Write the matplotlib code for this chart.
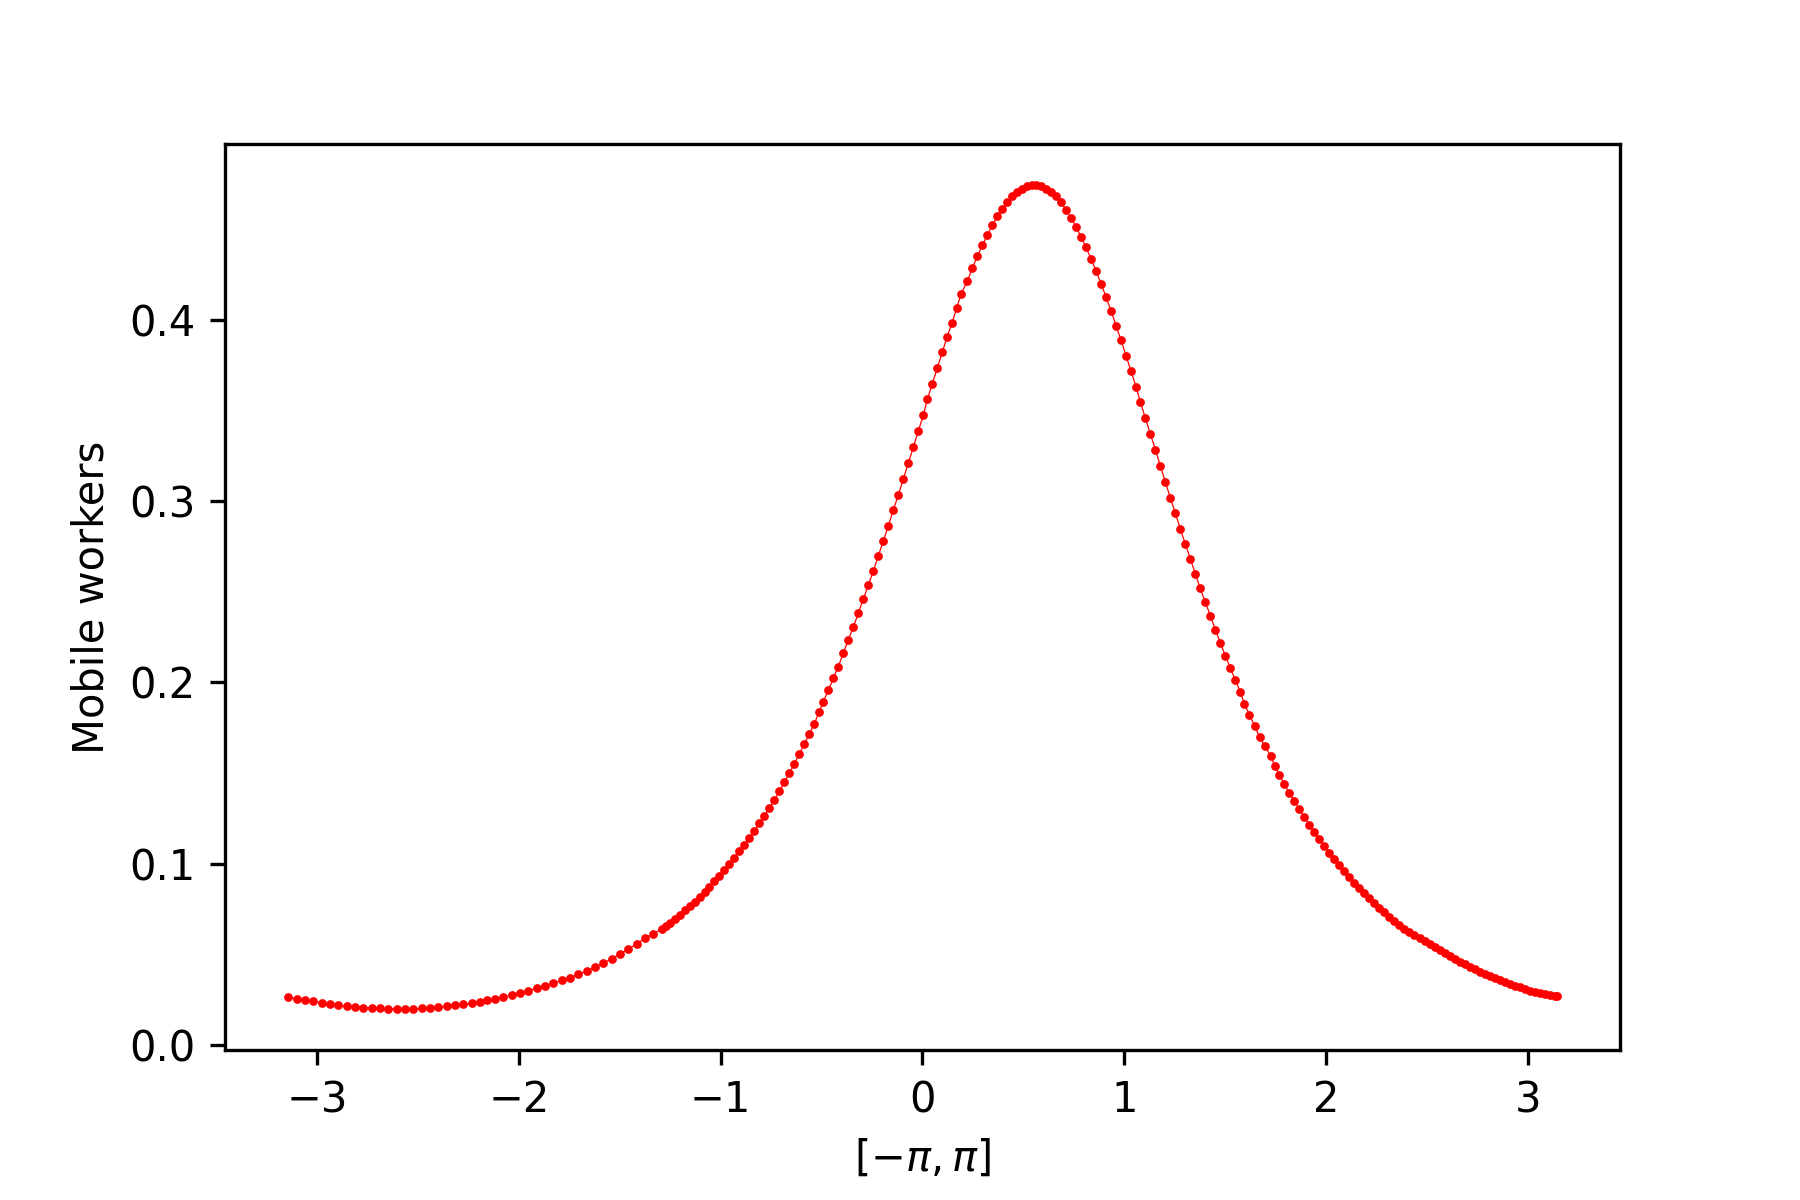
import numpy as np
import matplotlib
matplotlib.use("Agg")
import matplotlib.pyplot as plt

# positions on [-pi, pi]
theta = [
    -3.1416, -3.1013, -3.0600, -3.0187, -2.9774, -2.9361, -2.8948, -2.8535,
    -2.8122, -2.7709, -2.7296, -2.6883, -2.6470, -2.6057, -2.5644, -2.5231,
    -2.4818, -2.4405, -2.3992, -2.3579, -2.3166, -2.2753, -2.2340, -2.1927,
    -2.1597, -2.1184, -2.0771, -2.0358, -1.9945, -1.9532, -1.9119, -1.8706,
    -1.8294, -1.7881, -1.7468, -1.7055, -1.6642, -1.6229, -1.5816, -1.5403,
    -1.4990, -1.4577, -1.4164, -1.3751, -1.3338,
    -1.2925, -1.2711, -1.2512, -1.2265, -1.2017, -1.1769, -1.1521, -1.1274,
    -1.1026, -1.0778, -1.0563, -1.0316, -1.0068, -0.9820, -0.9572, -0.9325,
    -0.9077, -0.8829, -0.8581, -0.8334, -0.8086, -0.7838, -0.7590, -0.7342,
    -0.7095, -0.6847, -0.6599, -0.6351, -0.6104, -0.5856, -0.5608, -0.5360,
    -0.5130, -0.4914, -0.4667, -0.4419, -0.4171, -0.3923, -0.3676, -0.3428,
    -0.3180, -0.2932, -0.2684, -0.2437, -0.2189, -0.1941, -0.1693, -0.1446,
    -0.1198, -0.0950, -0.0702, -0.0454, -0.0207, 0.0041, 0.0239, 0.0487,
    0.0735, 0.0983, 0.1214, 0.1462, 0.1693, 0.1908,
    0.2222, 0.2469, 0.2717, 0.2965, 0.3213, 0.3460, 0.3708, 0.3956,
    0.4204, 0.4451, 0.4666, 0.4914, 0.5162, 0.5410, 0.5624, 0.5856,
    0.6104, 0.6351, 0.6615, 0.6863, 0.7111, 0.7359, 0.7607, 0.7854,
    0.8102, 0.8350, 0.8598, 0.8845, 0.9093, 0.9341, 0.9589, 0.9836,
    1.0084, 1.0332, 1.0580, 1.0794, 1.1042, 1.1290, 1.1538, 1.1785,
    1.2033, 1.2281, 1.2529, 1.2777, 1.3024, 1.3272, 1.3520, 1.3751,
    1.4015, 1.4263, 1.4511, 1.4759, 1.5006, 1.5254, 1.5502, 1.5750,
    1.5948, 1.6196, 1.6450, 1.6700, 1.6950,
    1.7253, 1.7451, 1.7682, 1.7930, 1.8178, 1.8426, 1.8673, 1.8921,
    1.9169, 1.9417, 1.9664, 1.9912, 2.0160, 2.0408, 2.0656, 2.0903,
    2.1151, 2.1399, 2.1647, 2.1894, 2.2142, 2.2390, 2.2638, 2.2886,
    2.3133, 2.3381, 2.3629, 2.3877, 2.4124, 2.4372,
    2.4653, 2.4901, 2.5149, 2.5397, 2.5644, 2.5892, 2.6140, 2.6388,
    2.6635, 2.6883, 2.7131, 2.7379, 2.7627, 2.7874, 2.8122, 2.8370,
    2.8618, 2.8865, 2.9113, 2.9361, 2.9609, 2.9856, 3.0104, 3.0352,
    3.0600, 3.0848, 3.1095, 3.1343, 3.1416,
]

mobile = [
    0.0265, 0.0255, 0.0248, 0.0241, 0.0233, 0.0226, 0.0219, 0.0213,
    0.0209, 0.0206, 0.0204, 0.0202, 0.0200, 0.0200, 0.0200, 0.0200,
    0.0202, 0.0206, 0.0209, 0.0213, 0.0219, 0.0224, 0.0230, 0.0235,
    0.0246, 0.0255, 0.0265, 0.0276, 0.0287, 0.0300, 0.0314, 0.0327,
    0.0342, 0.0357, 0.0371, 0.0390, 0.0408, 0.0430, 0.0452, 0.0476,
    0.0502, 0.0529, 0.0559, 0.0588, 0.0614,
    0.0640, 0.0656, 0.0673, 0.0695, 0.0719, 0.0743, 0.0765, 0.0789,
    0.0816, 0.0844, 0.0870, 0.0903, 0.0930, 0.0963, 0.1000, 0.1031,
    0.1072, 0.1105, 0.1142, 0.1180, 0.1224, 0.1265, 0.1307, 0.1351,
    0.1399, 0.1449, 0.1500, 0.1550, 0.1605, 0.1660, 0.1715, 0.1772,
    0.1835, 0.1895, 0.1956, 0.2024, 0.2088, 0.2162, 0.2236, 0.2305,
    0.2383, 0.2460, 0.2537, 0.2614, 0.2699, 0.2780, 0.2864, 0.2951,
    0.3034, 0.3122, 0.3210, 0.3298, 0.3385, 0.3475, 0.3561, 0.3649,
    0.3734, 0.3822, 0.3905, 0.3982, 0.4065, 0.4142,
    0.4214, 0.4286, 0.4350, 0.4412, 0.4468, 0.4523, 0.4571, 0.4611,
    0.4650, 0.4685, 0.4705, 0.4723, 0.4736, 0.4743, 0.4743, 0.4736,
    0.4723, 0.4707, 0.4681, 0.4648, 0.4607, 0.4563, 0.4514, 0.4457,
    0.4400, 0.4337, 0.4271, 0.4199, 0.4127, 0.4050, 0.3969, 0.3888,
    0.3802, 0.3716, 0.3631, 0.3547, 0.3458, 0.3372, 0.3284, 0.3195,
    0.3105, 0.3017, 0.2934, 0.2846, 0.2763, 0.2681, 0.2600, 0.2521,
    0.2443, 0.2368, 0.2291, 0.2217, 0.2147, 0.2079, 0.2013, 0.1947,
    0.1883, 0.1822, 0.1760, 0.1700, 0.1650,
    0.1596, 0.1541, 0.1489, 0.1439, 0.1390, 0.1346, 0.1302, 0.1257,
    0.1213, 0.1175, 0.1136, 0.1096, 0.1059, 0.1026, 0.0993, 0.0961,
    0.0927, 0.0893, 0.0866, 0.0838, 0.0811, 0.0783, 0.0756, 0.0732,
    0.0708, 0.0686, 0.0664, 0.0643, 0.0623, 0.0606,
    0.0588, 0.0572, 0.0557, 0.0540, 0.0524, 0.0509, 0.0493, 0.0476,
    0.0460, 0.0445, 0.0430, 0.0417, 0.0404, 0.0391, 0.0379, 0.0368,
    0.0357, 0.0346, 0.0336, 0.0327, 0.0318, 0.0309, 0.0301, 0.0294,
    0.0287, 0.0281, 0.0276, 0.0270, 0.0268,
]

fig = plt.figure(figsize=(6, 4), dpi=300)
fig.subplots_adjust(left=0.125, right=0.9, top=0.88, bottom=0.125)
ax = fig.add_subplot(111)

ax.plot(theta, mobile, color="red", marker="o", markersize=2.1,
        markeredgewidth=0, linewidth=0.3)

ax.set_xlabel(r"$[-\pi, \pi]$")
ax.set_ylabel("Mobile workers")

fig.savefig("out.png", dpi=300)
